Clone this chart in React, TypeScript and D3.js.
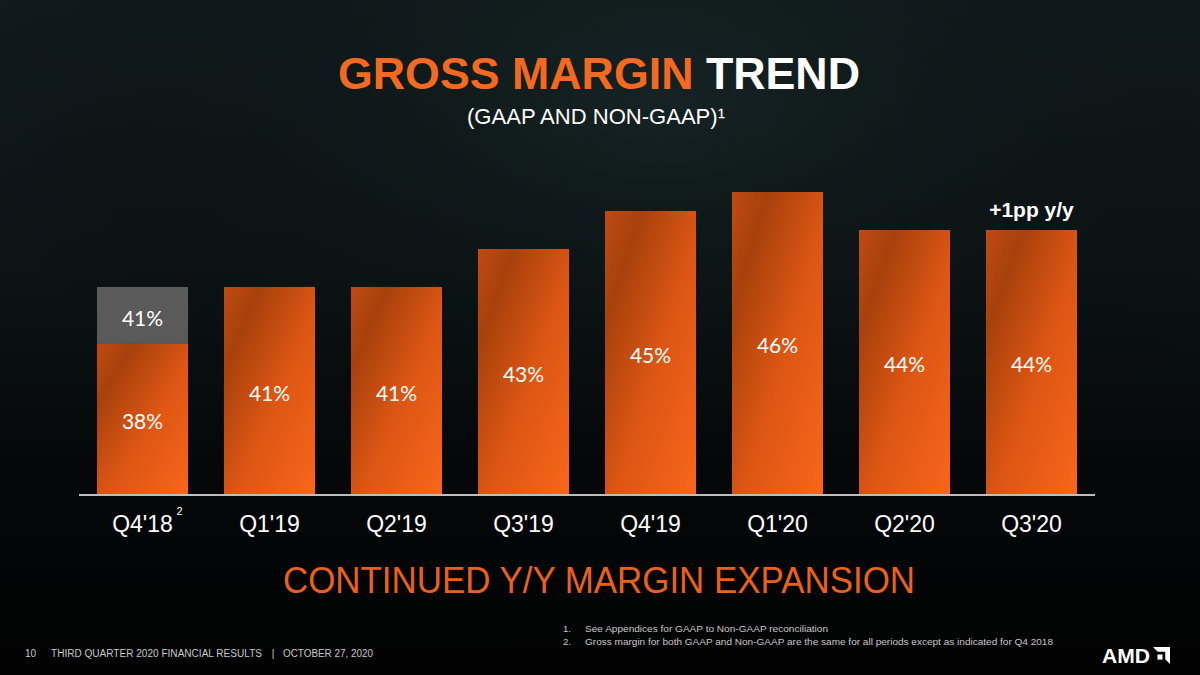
import React from "react";
import * as d3 from "d3";

const quarters = ["Q4'18", "Q1'19", "Q2'19", "Q3'19", "Q4'19", "Q1'20", "Q2'20", "Q3'20"];
const gaapMargin = [38, 41, 41, 43, 45, 46, 44, 44];
const nonGaapMargin = [41, 41, 41, 43, 45, 46, 44, 44];
const footnotes = [
  "See Appendices for GAAP to Non-GAAP reconciliation",
  "Gross margin for both GAAP and Non-GAAP are the same for all periods except as indicated for Q4 2018",
];
const footnoteWidths = [243, 468];

const W = 1200;
const H = 675;
const ORANGE = "#f26a21";
const SANS = "'Liberation Sans', Arial, sans-serif";

export default function App() {
  const x = d3
    .scaleBand<string>()
    .domain(quarters)
    .range([79, 1095])
    .paddingInner(0.283)
    .paddingOuter(0.1415);
  const y = d3.scaleLinear().domain([30.1, 46]).range([494, 192]);
  const bw = x.bandwidth();
  const base = y(30.1);

  return (
    <svg
      width={W}
      height={H}
      viewBox={`0 0 ${W} ${H}`}
      style={{ position: "absolute", left: 0, top: 0, display: "block" }}
    >
      <defs>
        <linearGradient id="bg" x1="0" y1="0" x2="0" y2="1">
          <stop offset="0" stopColor="#111b1d" />
          <stop offset="0.4" stopColor="#0c1416" />
          <stop offset="0.7" stopColor="#050708" />
          <stop offset="1" stopColor="#020202" />
        </linearGradient>
        <radialGradient id="glow" cx="0.55" cy="0.15" r="0.6">
          <stop offset="0" stopColor="#1a2a2a" stopOpacity="0.6" />
          <stop offset="1" stopColor="#000000" stopOpacity="0" />
        </radialGradient>
        <linearGradient id="barGrad" x1="0" y1="0" x2="1" y2="1">
          <stop offset="0" stopColor="#c04a12" />
          <stop offset="0.2" stopColor="#a8410c" />
          <stop offset="0.55" stopColor="#dc5614" />
          <stop offset="1" stopColor="#f8661a" />
        </linearGradient>
      </defs>
      <rect x={0} y={0} width={W} height={H} fill="url(#bg)" />
      <rect x={0} y={0} width={W} height={H} fill="url(#glow)" />

      {/* Title */}
      <text
        x={599}
        y={89}
        textAnchor="middle"
        fontFamily={SANS}
        fontWeight="bold"
        fontSize={45}
        textLength={522}
        lengthAdjust="spacingAndGlyphs"
      >
        <tspan fill={ORANGE}>GROSS MARGIN </tspan>
        <tspan fill="#ffffff">TREND</tspan>
      </text>
      <text
        x={596}
        y={124}
        textAnchor="middle"
        fontFamily={SANS}
        fontSize={22}
        fill="#ffffff"
        textLength={258}
        lengthAdjust="spacingAndGlyphs"
      >
        (GAAP AND NON-GAAP)¹
      </text>

      {/* Bars */}
      {quarters.map((q, i) => {
        const x0 = x(q)!;
        const gTop = y(gaapMargin[i]);
        const nTop = y(nonGaapMargin[i]);
        const hasGray = nonGaapMargin[i] > gaapMargin[i];
        return (
          <g key={q}>
            {hasGray && (
              <rect x={x0} y={nTop} width={bw} height={gTop - nTop} fill="#5a5a5b" />
            )}
            <rect x={x0} y={gTop} width={bw} height={base - gTop} fill="url(#barGrad)" />
            <text
              x={x0 + bw / 2}
              y={(gTop + base) / 2 + 3}
              dy="0.35em"
              textAnchor="middle"
              fontFamily="Lato, 'Open Sans', sans-serif"
              fontSize={21}
              fill="#ffffff"
            >
              {gaapMargin[i]}%
            </text>
            {hasGray && (
              <text
                x={x0 + bw / 2}
                y={(nTop + gTop) / 2 + 3}
                dy="0.35em"
                textAnchor="middle"
                fontFamily="Lato, 'Open Sans', sans-serif"
                fontSize={21}
                fill="#ffffff"
              >
                {nonGaapMargin[i]}%
              </text>
            )}
            <text
              x={x0 + bw / 2}
              y={532}
              textAnchor="middle"
              fontFamily={SANS}
              fontSize={23}
              fill="#ffffff"
            >
              {q}
            </text>
          </g>
        );
      })}

      {/* Superscript note on first category */}
      <text
        x={x(quarters[0])! + bw / 2 + 37}
        y={515}
        textAnchor="middle"
        fontFamily={SANS}
        fontSize={11}
        fill="#ffffff"
      >
        2
      </text>

      {/* Baseline */}
      <line x1={79} x2={1095} y1={base + 1} y2={base + 1} stroke="#bdbdbd" strokeWidth={2} />

      {/* y/y annotation */}
      <text
        x={x(quarters[quarters.length - 1])! + bw / 2}
        y={217}
        textAnchor="middle"
        fontFamily={SANS}
        fontWeight="bold"
        fontSize={21}
        fill="#ffffff"
      >
        +1pp y/y
      </text>

      {/* Headline */}
      <text
        x={599}
        y={593}
        textAnchor="middle"
        fontFamily={SANS}
        fontSize={37}
        fill="#e8621e"
        textLength={632}
        lengthAdjust="spacingAndGlyphs"
      >
        CONTINUED Y/Y MARGIN EXPANSION
      </text>

      {/* Footnotes */}
      {footnotes.map((f, i) => (
        <g key={i}>
          <text x={563} y={632 + i * 12.5} fontFamily={SANS} fontSize={9.5} fill="#c8c8c8">
            {i + 1}.
          </text>
          <text
            x={585}
            y={632 + i * 12.5}
            fontFamily={SANS}
            fontSize={9.5}
            fill="#c8c8c8"
            textLength={footnoteWidths[i]}
            lengthAdjust="spacingAndGlyphs"
          >
            {f}
          </text>
        </g>
      ))}

      {/* Footer */}
      <text x={25} y={657} fontFamily={SANS} fontSize={10} fill="#c8c8c8">
        10
      </text>
      <text
        x={51}
        y={657}
        fontFamily={SANS}
        fontSize={10}
        fill="#c8c8c8"
        textLength={211}
        lengthAdjust="spacingAndGlyphs"
      >
        THIRD QUARTER 2020 FINANCIAL RESULTS
      </text>
      <text x={273} y={657} textAnchor="middle" fontFamily={SANS} fontSize={10} fill="#c8c8c8">
        |
      </text>
      <text
        x={283}
        y={657}
        fontFamily={SANS}
        fontSize={10}
        fill="#c8c8c8"
        textLength={90}
        lengthAdjust="spacingAndGlyphs"
      >
        OCTOBER 27, 2020
      </text>

      {/* Logo */}
      <g transform="translate(1102,646)">
        <text
          x={0}
          y={17}
          fontFamily={SANS}
          fontWeight="bold"
          fontSize={20}
          fill="#ffffff"
          textLength={48}
          lengthAdjust="spacingAndGlyphs"
        >
          AMD
        </text>
        <g transform="translate(51,1) scale(17)">
          <path d="M0 0 H1 V1 L0.72 0.72 V0.28 H0.28 Z" fill="#ffffff" />
          <path d="M0.26 0.44 H0.56 V0.74 H0.26 Z" fill="#ffffff" />
        </g>
      </g>
    </svg>
  );
}
